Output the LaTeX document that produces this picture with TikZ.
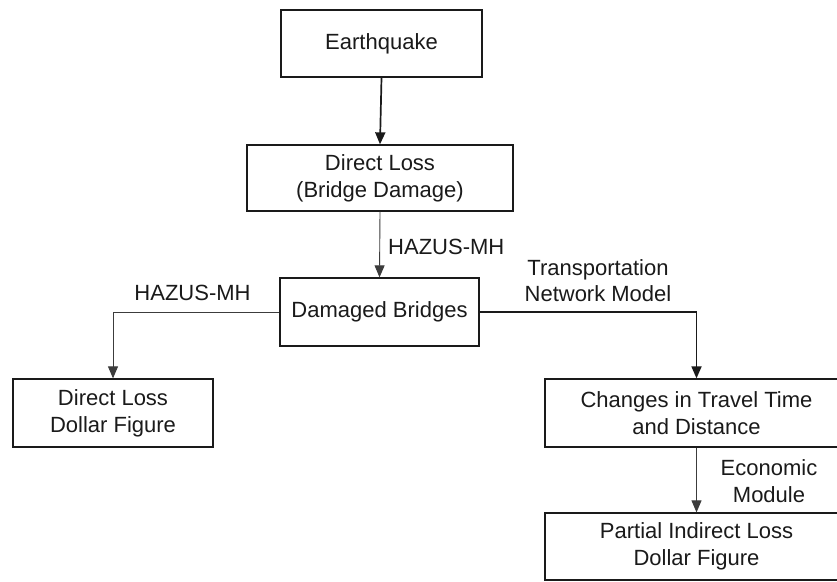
\documentclass[tikz,border=0pt]{standalone}
\usepackage{fontspec}
\setmainfont{Liberation Sans}
\usetikzlibrary{arrows.meta}
\definecolor{ink}{HTML}{1A1A1A}
\begin{document}
\begin{tikzpicture}[x=1pt,y=-1pt,
  every node/.style={font=\fontsize{22}{27}\selectfont, text=ink},
  box/.style={draw=ink, line width=1.3pt, align=center, inner sep=0pt, fill=white},
  lbl/.style={align=center, inner sep=0pt},
  thickarrow/.style={draw=ink, line width=1.7pt, -{Triangle[length=12pt,width=10pt]}},
  thinarrow/.style={draw=ink!85, line width=0.9pt, -{Triangle[length=12pt,width=10pt]}}
]
\useasboundingbox (0,0) rectangle (837,581);
\clip (0,0) rectangle (837,581);
\fill[white] (0,0) rectangle (837,581);

\node[box, minimum width=201pt, minimum height=67pt] (eq) at (381.5,43.5) {Earthquake};
\node[box, minimum width=266pt, minimum height=66pt] (dl) at (380,178) {Direct Loss\\(Bridge Damage)};
\node[box, minimum width=199pt, minimum height=68pt] (db) at (379.5,312) {Damaged Bridges};
\node[box, minimum width=200pt, minimum height=68pt] (dldf) at (113,413) {Direct Loss\\Dollar Figure};
\node[box, minimum width=303pt, minimum height=68pt] (ch) at (696.5,413) {Changes in Travel Time\\and Distance};
\node[box, minimum width=303pt, minimum height=67pt] (pl) at (696.5,546.5) {Partial Indirect Loss\\Dollar Figure};

\node[lbl, anchor=west] (hz1) at (388,247) {HAZUS-MH};
\node[lbl] (hz2) at (192.5,293) {HAZUS-MH};
\node[lbl, font=\fontsize{22}{26}\selectfont] (tnm) at (598,281) {Transportation\\Network Model};
\node[lbl] (em) at (769,481.5) {Economic\\Module};

\draw[thickarrow] (eq.south) -- (dl.north);
\draw[thinarrow] (dl.south) -- (db.north);
\draw[thinarrow] (db.west) -| (dldf.north);
\draw[thickarrow] (db.east) -| (ch.north);
\draw[thinarrow] (ch.south) -- (pl.north);
\end{tikzpicture}
\end{document}
